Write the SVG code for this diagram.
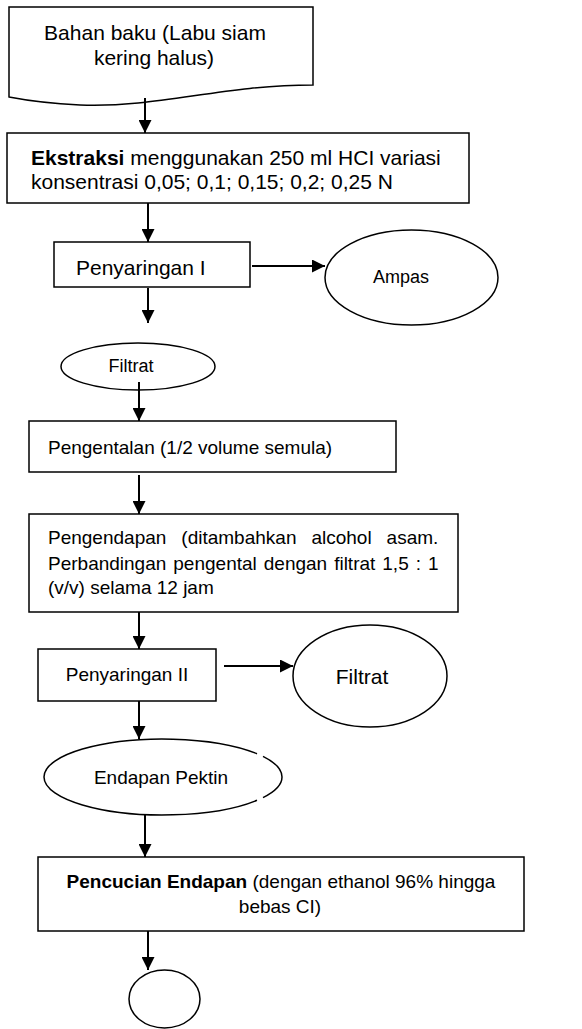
<svg xmlns="http://www.w3.org/2000/svg" width="582" height="1029" viewBox="0 0 582 1029">
<style>
.shape{fill:#fff;stroke:#000;stroke-width:1.5}
.conn{stroke:#000;stroke-width:2;fill:none}
text{font-family:"Liberation Sans",Arial,sans-serif;fill:#000}
.b{font-weight:bold}
.c{text-anchor:middle}
</style>
<defs>
<marker id="ah" markerUnits="userSpaceOnUse" markerWidth="13" markerHeight="13" refX="13" refY="6.5" orient="auto">
<path d="M0,0 L13,6.5 L0,13 z" fill="#000"/>
</marker>
</defs>
<rect width="582" height="1029" fill="#fff"/>

<g id="bahan">
<path class="shape" d="M9 7 H313 V85 C220 85 160 108 80 105 Q40 103 9 97 Z"/>
<text class="c" x="155" y="40" font-size="21">Bahan baku (Labu siam</text>
<text class="c" x="154" y="65" font-size="21">kering halus)</text>
</g>

<g id="ekstraksi">
<rect class="shape" x="7" y="133" width="462" height="70"/>
<text x="31" y="165" font-size="21"><tspan class="b">Ekstraksi</tspan> menggunakan 250 ml HCI variasi</text>
<text x="31" y="189" font-size="21">konsentrasi 0,05; 0,1; 0,15; 0,2; 0,25 N</text>
</g>

<g id="penyaringan1">
<rect class="shape" x="54" y="242" width="196" height="45"/>
<text x="76" y="275" font-size="21">Penyaringan I</text>
</g>

<g id="ampas">
<ellipse class="shape" cx="411.5" cy="277.5" rx="86.5" ry="47.5"/>
<text class="c" x="401" y="283" font-size="18">Ampas</text>
</g>

<g id="filtrat1">
<ellipse class="shape" cx="138" cy="366.5" rx="77" ry="23.5"/>
<text class="c" x="131" y="372" font-size="18">Filtrat</text>
</g>

<g id="pengentalan">
<rect class="shape" x="29" y="421" width="367" height="51"/>
<text x="48" y="454" font-size="19">Pengentalan (1/2 volume semula)</text>
</g>

<g id="pengendapan">
<rect class="shape" x="29" y="514" width="429" height="98"/>
<text x="48" y="544" font-size="19" word-spacing="9.7">Pengendapan (ditambahkan alcohol asam.</text>
<text x="48" y="570" font-size="19" word-spacing="1.7">Perbandingan pengental dengan filtrat 1,5 : 1</text>
<text x="48" y="594" font-size="19">(v/v) selama 12 jam</text>
</g>

<g id="penyaringan2">
<rect class="shape" x="38" y="649" width="178" height="52"/>
<text class="c" x="127" y="681" font-size="19">Penyaringan II</text>
</g>

<g id="filtrat2">
<ellipse class="shape" cx="370" cy="676" rx="77" ry="51"/>
<text class="c" x="362" y="684" font-size="21">Filtrat</text>
</g>

<g id="endapan">
<path class="shape" d="M257 800.3 A119 38 0 1 1 257 753.7"/>
<path class="shape" fill="none" d="M263 756.4 A119 38 0 0 1 263 797.6"/>
<text class="c" x="161" y="784" font-size="19">Endapan Pektin</text>
</g>

<g id="pencucian">
<rect class="shape" x="38" y="857" width="486" height="74"/>
<text class="c" x="281" y="888" font-size="19"><tspan class="b">Pencucian Endapan</tspan> (dengan ethanol 96% hingga</text>
<text class="c" x="280" y="913" font-size="19">bebas CI)</text>
</g>

<g id="akhir">
<ellipse class="shape" cx="164.5" cy="999" rx="35.5" ry="29"/>
</g>

<g id="connectors">
<line class="conn" x1="145" y1="98" x2="145" y2="133" marker-end="url(#ah)"/>
<line class="conn" x1="148" y1="203" x2="148" y2="242" marker-end="url(#ah)"/>
<line class="conn" x1="252" y1="266" x2="325" y2="266" marker-end="url(#ah)"/>
<line class="conn" x1="148" y1="288" x2="148" y2="323" marker-end="url(#ah)"/>
<line class="conn" x1="139" y1="382" x2="139" y2="421" marker-end="url(#ah)"/>
<line class="conn" x1="139" y1="475" x2="139" y2="514" marker-end="url(#ah)"/>
<line class="conn" x1="139" y1="612" x2="139" y2="649" marker-end="url(#ah)"/>
<line class="conn" x1="224" y1="666" x2="293" y2="666" marker-end="url(#ah)"/>
<line class="conn" x1="139" y1="701" x2="139" y2="739" marker-end="url(#ah)"/>
<line class="conn" x1="145" y1="815" x2="145" y2="857" marker-end="url(#ah)"/>
<line class="conn" x1="148" y1="931" x2="148" y2="970" marker-end="url(#ah)"/>
</g>
</svg>
